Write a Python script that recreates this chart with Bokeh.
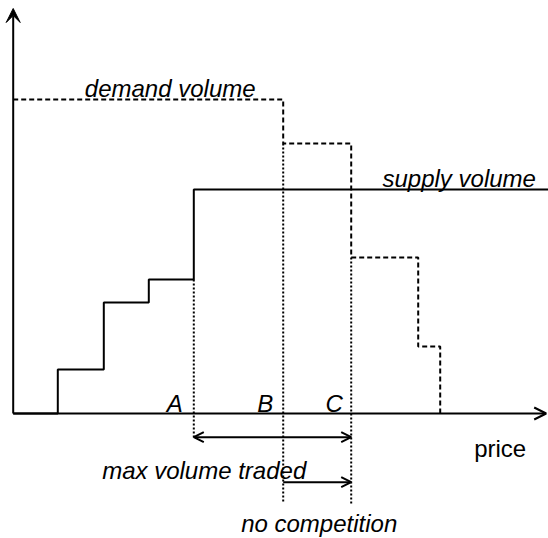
from bokeh.plotting import figure
from bokeh.models import Range1d, Arrow, OpenHead, VeeHead, ColumnDataSource
from bokeh.core.properties import value
from bokeh.embed import file_html
from bokeh.resources import INLINE

# ---- data (arbitrary price / volume units) ----
supply_price = [0.0, 4.46, 9.06, 13.56, 18.06, 53.6]
supply_volume = [0.0, 4.4, 11.1, 13.4, 22.4, 22.4]
demand_price = [0.0, 27.0, 33.8, 40.5, 42.7]
demand_volume = [31.4, 27.0, 15.6, 6.7, 0.0]

mark_labels = ["A", "B", "C"]
mark_price = [18.06, 27.0, 33.8]
mark_top = [13.4, 27.0, 15.6]
mark_bottom = [-2.5, -9.0, -9.0]

price_axis_end = 53.3
volume_axis_end = 40.5

FONT = value("Liberation Sans")

p = figure(width=548, height=538, x_range=Range1d(-1.27, 53.53),
           y_range=Range1d(-12.5, 41.3), output_backend="svg",
           toolbar_location=None, x_axis_type=None, y_axis_type=None,
           min_border=0, min_border_left=0, min_border_right=0,
           min_border_top=0, min_border_bottom=0)
p.outline_line_color = None
p.grid.visible = False
p.background_fill_color = "white"

# axes as arrows
p.add_layout(Arrow(x_start=0, y_start=0, x_end=0, y_end=volume_axis_end,
                   line_width=2, line_color="black",
                   end=VeeHead(size=14, fill_color="black", line_color="black")))
p.add_layout(Arrow(x_start=0, y_start=0, x_end=price_axis_end, y_end=0,
                   line_width=2, line_color="black",
                   end=OpenHead(size=12, line_width=2, line_color="black")))

# supply (solid) and demand (dashed) step curves
p.step(x=supply_price, y=supply_volume, mode="after", line_color="black", line_width=2)
p.step(x=demand_price, y=demand_volume, mode="after", line_color="black",
       line_width=2, line_dash="5 3")

# dotted guides at A, B, C
src = ColumnDataSource(dict(x=mark_price, top=mark_top, bottom=mark_bottom))
p.segment(x0="x", y0="top", x1="x", y1="bottom", source=src,
          line_color="black", line_width=2, line_dash=value("2 2"))

# range arrows
p.add_layout(Arrow(x_start=mark_price[0], y_start=-2.37, x_end=mark_price[2], y_end=-2.37,
                   line_width=2, line_color="black",
                   start=OpenHead(size=10, line_width=2, line_color="black"),
                   end=OpenHead(size=10, line_width=2, line_color="black")))
p.add_layout(Arrow(x_start=mark_price[1], y_start=-6.87, x_end=mark_price[2], y_end=-6.87,
                   line_width=2, line_color="black",
                   end=OpenHead(size=10, line_width=2, line_color="black")))

# labels
p.text(x=[15.7], y=[32.5], text=["demand volume"], text_font=FONT,
       text_font_style="italic", text_font_size="24px", text_align="center",
       text_baseline="alphabetic", text_color="black")
p.text(x=[44.6], y=[23.5], text=["supply volume"], text_font=FONT,
       text_font_style="italic", text_font_size="24px", text_align="center",
       text_baseline="alphabetic", text_color="black")
p.text(x=[16.15, 25.2, 32.1], y=[1.03, 1.03, 1.03], text=mark_labels, text_font=FONT,
       text_font_style="italic", text_font_size="24px", text_align="center",
       text_baseline="alphabetic", text_color="black")
p.text(x=[48.7], y=[-3.5], text=["price"], text_font=FONT,
       text_font_style="normal", text_font_size="24px", text_align="center",
       text_baseline="alphabetic", text_color="black")
p.text(x=[19.1], y=[-5.7], text=["max volume traded"], text_font=FONT,
       text_font_style="italic", text_font_size="24px", text_align="center",
       text_baseline="alphabetic", text_color="black")
p.text(x=[30.6], y=[-11.0], text=["no competition"], text_font=FONT,
       text_font_style="italic", text_font_size="24px", text_align="center",
       text_baseline="alphabetic", text_color="black")

open("out.html", "w").write(file_html(p, INLINE))
